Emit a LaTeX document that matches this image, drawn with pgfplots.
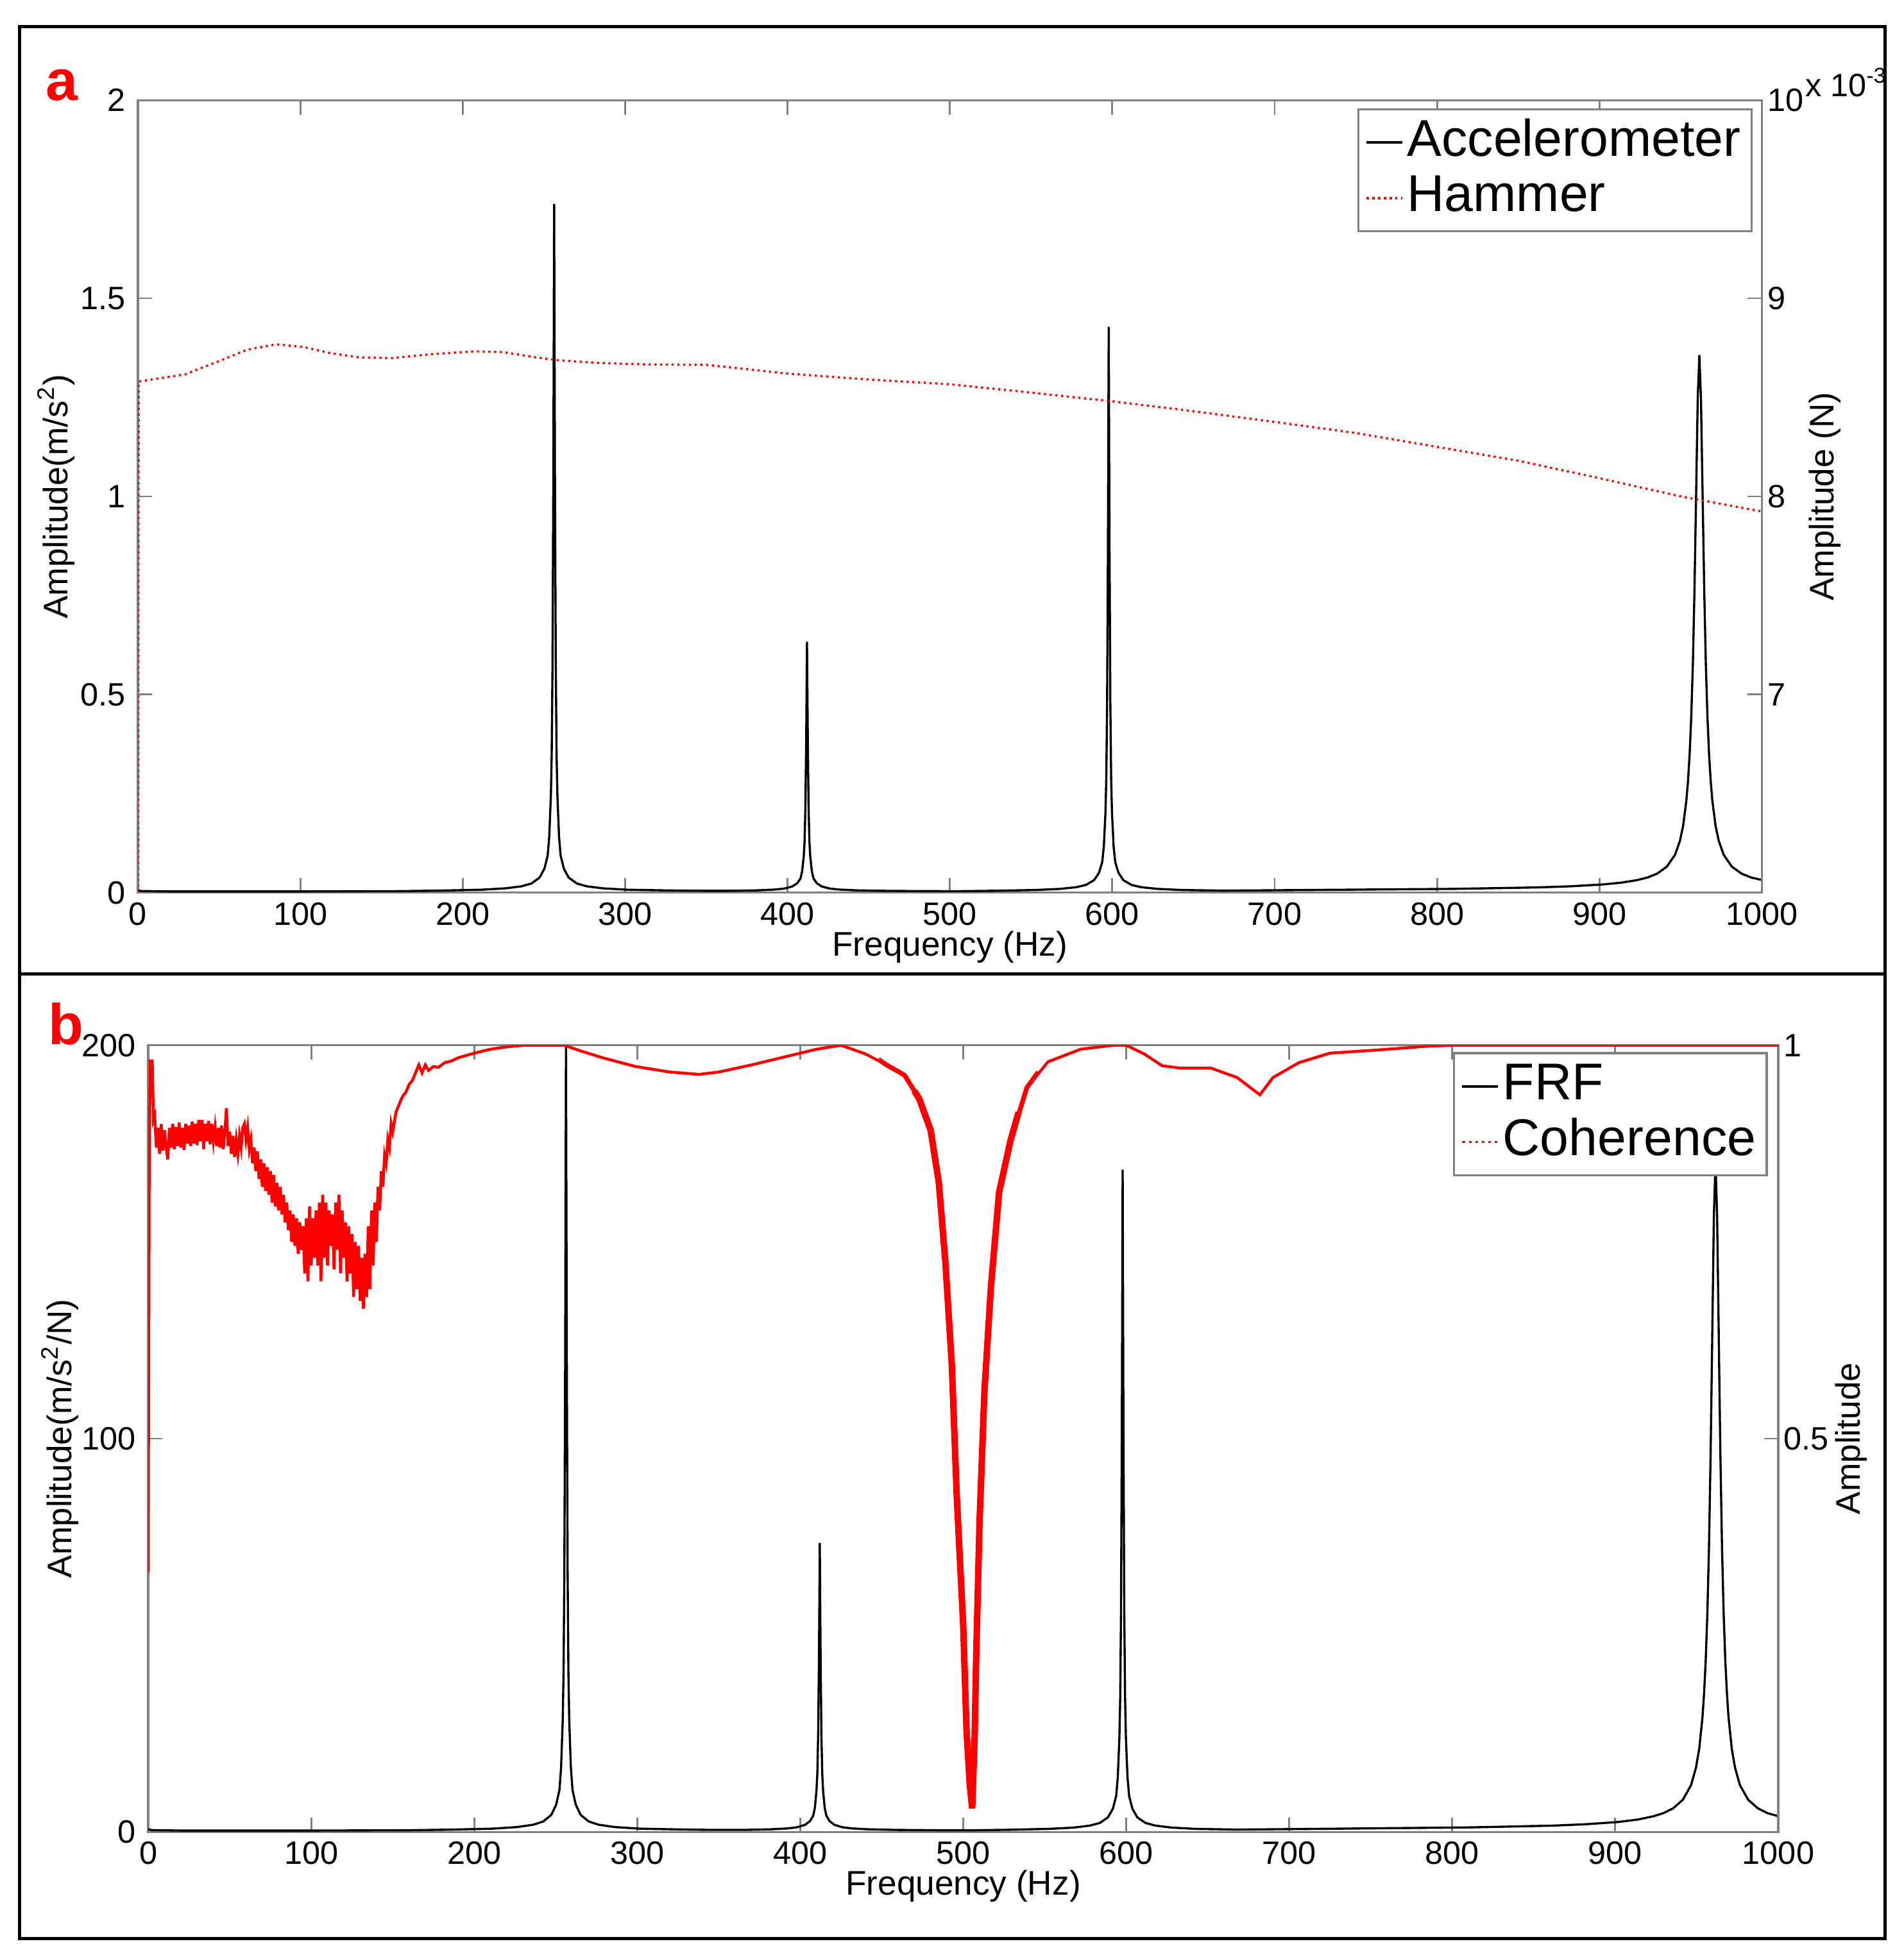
\documentclass[border=0pt]{standalone}
\usepackage{fontspec}
\setmainfont{Liberation Sans}
\usepackage{pgfplots}
\pgfplotsset{compat=1.18}
\usepackage{pgfplotstable}

\pgfplotstableread{
f a
0 0.006
2 0.004
20 0.003
100 0.003
160 0.0037
186.3 0.0051
211.3 0.0073
226.3 0.0108
236.3 0.0160
242.3 0.0230
247.3 0.0377
250.3 0.0603
252.3 0.0932
253.3 0.142
254.3 0.246
254.8 0.350
255.3 0.576
255.8 1.044
256.3 1.738
256.8 1.044
257.3 0.576
257.8 0.350
258.3 0.246
259.3 0.142
260.3 0.0932
262.3 0.0603
265.3 0.0377
270.3 0.0230
276.3 0.0160
286.3 0.0108
301.3 0.0073
326.3 0.0055
342 0.0047
367 0.0046
382 0.0058
392 0.0077
398 0.0102
403 0.0156
406 0.0238
408 0.0358
409 0.0534
410 0.0912
410.5 0.129
411 0.211
411.5 0.381
412 0.633
412.5 0.381
413 0.211
413.5 0.129
414 0.0912
415 0.0534
416 0.0358
418 0.0238
421 0.0156
426 0.0102
432 0.0077
442 0.0058
457 0.0046
482 0.0038
505 0.0036
527.8 0.0047
552.8 0.0066
567.8 0.0094
577.8 0.0137
583.8 0.0194
588.8 0.0315
591.8 0.050
593.8 0.0771
594.8 0.117
595.8 0.203
596.3 0.288
596.8 0.473
597.3 0.858
597.8 1.428
598.3 0.858
598.8 0.473
599.3 0.288
599.8 0.203
600.8 0.117
601.8 0.0771
603.8 0.050
606.8 0.0315
611.8 0.0194
617.8 0.0137
627.8 0.0094
642.8 0.0066
667.8 0.0050
711.5 0.0063
811.5 0.0095
861.5 0.0131
881.5 0.0158
901.5 0.0204
913.5 0.0252
923 0.0314
929.5 0.0380
935.5 0.0479
941.5 0.0656
946.5 0.0952
949.5 0.130
951.5 0.168
953.5 0.232
954.5 0.281
955.5 0.348
956.5 0.442
957.5 0.575
958.5 0.764
959.5 1.003
960.5 1.246
961.5 1.357
962.5 1.246
963.5 1.003
964.5 0.764
965.5 0.575
966.5 0.442
967.5 0.348
968.5 0.281
969.5 0.232
971.5 0.168
973.5 0.130
976.5 0.0952
981.5 0.0656
987.5 0.0479
993.5 0.0380
1000 0.0320
}\accel

\pgfplotstableread{
f r
0 6.0
0.5 8.58
29 8.616
54 8.696
67 8.74
85 8.768
102 8.754
118 8.724
136 8.702
156 8.698
181 8.718
207 8.732
225 8.728
245 8.702
258 8.688
283 8.674
313 8.666
350 8.664
400 8.62
450 8.59
500 8.566
550 8.524
600 8.48
650 8.43
700 8.376
750 8.32
800 8.25
850 8.18
900 8.092
950 8.0
1000 7.924
}\hammer

\pgfplotstableread{
f h
0 0.7
2 0.47
20 0.35
100 0.35
160 0.43
186.3 0.59
211.3 0.84
226.3 1.24
236.3 1.84
242.3 2.65
247.3 4.34
250.3 6.95
252.3 10.7
253.3 16.4
254.3 28.3
254.8 40.3
255.3 66.4
255.8 120.3
256.3 199.9
256.8 120.3
257.3 66.4
257.8 40.3
258.3 28.3
259.3 16.4
260.3 10.7
262.3 6.95
265.3 4.34
270.3 2.65
276.3 1.84
286.3 1.24
301.3 0.84
326.3 0.63
342 0.54
367 0.53
382 0.67
392 0.89
398 1.18
403 1.81
406 2.76
408 4.16
409 6.2
410 10.6
410.5 15.0
411 24.5
411.5 44.2
412 73.5
412.5 44.2
413 24.5
413.5 15.0
414 10.6
415 6.2
416 4.16
418 2.76
421 1.81
426 1.18
432 0.89
442 0.67
457 0.53
482 0.44
505 0.42
527.8 0.55
552.8 0.78
567.8 1.11
577.8 1.62
583.8 2.29
588.8 3.71
591.8 5.9
593.8 9.09
594.8 13.8
595.8 23.9
596.3 34.0
596.8 55.8
597.3 101.2
597.8 168.4
598.3 101.2
598.8 55.8
599.3 34.0
599.8 23.9
600.8 13.8
601.8 9.09
603.8 5.9
606.8 3.71
611.8 2.29
617.8 1.62
627.8 1.11
642.8 0.78
667.8 0.60
711.5 0.76
811.5 1.16
861.5 1.60
881.5 1.95
901.5 2.52
913.5 3.13
923 3.94
929.5 4.77
935.5 6.0
941.5 8.2
946.5 11.9
949.5 16.3
951.5 21.1
953.5 29.1
954.5 35.3
955.5 43.7
956.5 55.5
957.5 72.2
958.5 95.9
959.5 125.9
960.5 156.4
961.5 170.3
962.5 156.4
963.5 125.9
964.5 95.9
965.5 72.2
966.5 55.5
967.5 43.7
968.5 35.3
969.5 29.1
971.5 21.1
973.5 16.3
976.5 11.9
981.5 8.2
987.5 6.0
993.5 4.77
1000 4.0
}\frf

\pgfplotstableread{
f c
0 0.33
0.6 0.83
1.2 0.98
2.5 0.98
3.2 0.905
4 0.91
5 0.87
6 0.895
7 0.862
8 0.90
9 0.866
10 0.892
11 0.87
12 0.855
13 0.895
14 0.87
15 0.90
16 0.868
17 0.896
18 0.872
19 0.902
20 0.87
21 0.895
22 0.867
23 0.90
24 0.875
25 0.898
26 0.872
27 0.903
28 0.875
29 0.90
30 0.873
31 0.905
32 0.878
33 0.905
34 0.868
35 0.90
36 0.878
37 0.904
38 0.874
39 0.90
40 0.878
41 0.896
42 0.872
43 0.895
44 0.87
45 0.898
46 0.868
47 0.89
48 0.92
49 0.872
50 0.89
51 0.862
52 0.885
53 0.858
54 0.88
55 0.862
56 0.885
57 0.87
58 0.895
59 0.90
60 0.88
61 0.895
62 0.868
63 0.88
64 0.85
65 0.87
66 0.84
67 0.865
68 0.83
69 0.855
70 0.82
71 0.85
72 0.815
73 0.845
74 0.81
75 0.84
76 0.80
77 0.835
78 0.795
79 0.825
80 0.79
81 0.82
82 0.785
83 0.81
84 0.775
85 0.80
86 0.765
87 0.79
88 0.75
89 0.785
90 0.745
91 0.78
92 0.735
93 0.775
94 0.74
95 0.77
96 0.71
97 0.78
98 0.70
99 0.795
100 0.72
101 0.78
102 0.73
103 0.79
104 0.72
105 0.80
106 0.70
107 0.81
108 0.73
109 0.80
110 0.72
111 0.79
112 0.745
113 0.785
114 0.715
115 0.80
116 0.74
117 0.81
118 0.71
119 0.79
120 0.73
121 0.775
122 0.70
123 0.77
124 0.71
125 0.76
126 0.68
127 0.75
128 0.69
129 0.745
130 0.675
131 0.73
132 0.665
133 0.735
134 0.68
135 0.77
136 0.69
137 0.79
138 0.72
139 0.80
140 0.75
141 0.82
142 0.79
143 0.84
144 0.82
145 0.86
146 0.85
147 0.88
148 0.87
149 0.90
150 0.89
152 0.915
154 0.925
156 0.935
158 0.94
160 0.95
162 0.955
164 0.965
166 0.975
168 0.965
170 0.975
172 0.968
175 0.973
178 0.972
182 0.978
186 0.98
190 0.984
195 0.987
200 0.99
210 0.995
220 0.998
230 1.0
256 1.0
258 0.998
265 0.993
279 0.984
299 0.973
320 0.966
338 0.963
350 0.966
370 0.975
390 0.985
410 0.995
425 1.0
440 0.989
453 0.975
464 0.962
473 0.932
480 0.892
485 0.826
489 0.726
493 0.594
496 0.428
500 0.262
502 0.13
504 0.06
505.5 0.03
507 0.12
508 0.228
510 0.394
513 0.56
517 0.693
522 0.813
529 0.879
539 0.946
552 0.979
572 0.995
592 1.0
600 1.0
611 0.989
622 0.974
633 0.971
652 0.971
668 0.959
682 0.937
690 0.959
706 0.978
725 0.99
754 0.994
786 0.999
801 1.0
1000 1.0
}\coher

\pgfplotstableread{
f c
448 0.982
453 0.975
464 0.962
473 0.932
480 0.892
485 0.826
489 0.726
493 0.594
496 0.428
500 0.262
502 0.13
504 0.06
505.5 0.03
507 0.12
508 0.228
510 0.394
513 0.56
517 0.693
522 0.813
529 0.879
539 0.946
546 0.966
}\dipouter

\pgfplotstableread{
f c
470 0.942
473 0.932
480 0.892
485 0.826
489 0.726
493 0.594
496 0.428
500 0.262
502 0.13
504 0.06
505.5 0.03
507 0.12
508 0.228
510 0.394
513 0.56
517 0.693
522 0.813
529 0.879
534 0.915
}\dip

\pgfplotsset{
  mlab/.style={
    scale only axis,
    anchor=south west,
    xmin=0, xmax=1000,
    tick align=inside,
    major tick length=4pt,
    axis line style={draw=gray, line width=0.6pt},
    tick style={draw=gray, line width=0.5pt},
    tick label style={font=\fontsize{9}{10}\selectfont, text=black},
    xticklabel style={yshift=0.8pt},
    label style={font=\fontsize{9.5}{11}\selectfont},
    /pgf/number format/assume math mode=true,
    /pgf/number format/1000 sep={},
    legend image code/.code={\draw[##1] (0pt,0pt) -- (10pt,0pt);},
    legend cell align=left,
  },
  mleg/.style={
    legend style={draw=gray, line width=0.6pt, fill=white,
      font=\fontsize{14.4}{15}\selectfont,
      inner xsep=2pt, inner ysep=1.5pt, row sep=0pt,
      nodes={inner sep=1pt, text height=10.5pt, text depth=3pt},
      /tikz/every even column/.append style={column sep=0pt}},
    yticklabel style={xshift=-2pt},
  },
}

\begin{document}
\begin{tikzpicture}
\path[use as bounding box, fill=white] (0,0) rectangle (529.8pt,543.7pt);
\draw[line width=0.9pt] (5.46pt,4.1pt) rectangle (524.6pt,536.3pt);
\draw[line width=0.9pt] (5.46pt,272.6pt) -- (524.6pt,272.6pt);

% ---------- panel a ----------
\begin{axis}[mlab,
  at={(38.39pt,295.2pt)}, width=452pt, height=220.6pt,
  ymin=0, ymax=2,
  xtick={0,100,...,1000}, ytick={0,0.5,1,1.5,2},
  ytick pos=left, xtick pos=both,
  xlabel={Frequency (Hz)}, ylabel={Amplitude(m/s\textsuperscript{2})},
  xlabel style={at={(axis description cs:0.5,-0.0798)}, anchor=base},
  ylabel style={at={(axis description cs:-0.0504,0.5)}, anchor=center},
]
\addplot[black, line width=0.6pt] table[x=f, y=a] {\accel};
\end{axis}
\begin{axis}[mlab, mleg,
  at={(38.39pt,295.2pt)}, width=452pt, height=220.6pt,
  ymin=6, ymax=10,
  axis x line=none, axis y line*=right,
  ytick={7,8,9,10},
  ylabel={Amplitude (N)},
  ylabel style={at={(axis description cs:1.0387,0.5)}, anchor=center},
  legend style={at={(0.9943,0.990)}, anchor=north east},
]
\addlegendimage{black, line width=0.6pt}
\addlegendentry{Accelerometer}
\addplot[red, densely dotted, line width=0.6pt] table[x=f, y=r] {\hammer};
\addlegendentry{Hammer}
\end{axis}
\node[anchor=base west, inner sep=0pt, font=\fontsize{9}{10}\selectfont] at (502.3pt,516.8pt) {x 10\textsuperscript{-3}};
\node[anchor=base west, inner sep=0pt, text=red, font=\fontsize{16}{16}\selectfont\bfseries] at (12.5pt,515.8pt) {a};

% ---------- panel b ----------
\begin{axis}[mlab,
  at={(41.25pt,33.7pt)}, width=453.7pt, height=219pt,
  ymin=0, ymax=200,
  xtick={0,100,...,1000}, ytick={0,100,200},
  ytick pos=left, xtick pos=both,
  xlabel={Frequency (Hz)}, ylabel={Amplitude(m/s\textsuperscript{2}/N)},
  xlabel style={at={(axis description cs:0.5,-0.0804)}, anchor=base},
  ylabel style={at={(axis description cs:-0.0542,0.5)}, anchor=center},
]
\addplot[black, line width=0.6pt] table[x=f, y=h] {\frf};
\end{axis}
\begin{axis}[mlab, mleg,
  at={(41.25pt,33.7pt)}, width=453.7pt, height=219pt,
  ymin=0, ymax=1,
  axis x line=none, axis y line*=right,
  ytick={0.5,1},
  ylabel={Amplitude},
  ylabel style={at={(axis description cs:1.0447,0.5)}, anchor=center},
  legend style={at={(0.9936,0.9913)}, anchor=north east},
]
\addlegendimage{black, line width=0.6pt}
\addlegendentry{FRF}
\addplot[red, line width=0.8pt, legend image post style={densely dotted, line width=0.6pt}] table[x=f, y=c] {\coher};
\addlegendentry{Coherence}
\addplot[red, line width=1.3pt, forget plot] table[x=f, y=c] {\dipouter};
\addplot[red, line width=1.8pt, forget plot] table[x=f, y=c] {\dip};
\end{axis}
\node[anchor=base west, inner sep=0pt, text=red, font=\fontsize{16}{16}\selectfont\bfseries] at (13.2pt,252.9pt) {b};
\end{tikzpicture}
\end{document}
